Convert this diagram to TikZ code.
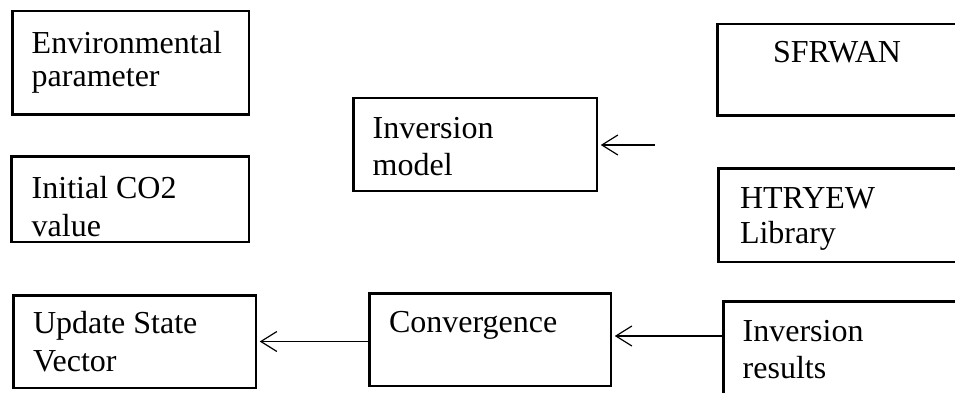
\documentclass[tikz,border=0pt]{standalone}
\usepackage{fontspec}
\setmainfont{Liberation Serif}
\usetikzlibrary{arrows.meta}
\begin{document}
\begin{tikzpicture}[x=1pt,y=-1pt,
  box/.style={draw, line width=2.5pt, inner sep=0pt, outer sep=0pt, anchor=north west},
  txt/.style={inner sep=0pt, outer sep=0pt, anchor=base west, align=left},
  conn/.style={line width=1.2pt, -{Straight Barb[length=16pt,width=20pt,line width=1.2pt]}, shorten >=4pt}]
\useasboundingbox (0,0) rectangle (955,393);
\clip (0,0) rectangle (955,393);
% boxes
\node[box, minimum width=236.5pt, minimum height=103.5pt] (env) at (12.25,11.25) {};
\node[box, minimum width=237.5pt, minimum height=85.5pt] (init) at (11.25,156.25) {};
\node[box, minimum width=242.5pt, minimum height=92.5pt] (upd) at (13.25,295.25) {};
\node[box, minimum width=243.5pt, minimum height=92.5pt] (inv) at (353.25,98.25) {};
\node[box, minimum width=300pt, minimum height=91.5pt] (sfr) at (717.25,24.25) {};
\node[box, minimum width=300pt, minimum height=93.5pt] (lib) at (718.25,168.25) {};
\node[box, minimum width=300pt, minimum height=150pt] (res) at (723.25,301.25) {};
\node[box, minimum width=241.5pt, minimum height=92.5pt] (conv) at (369.25,293.25) {};
% texts (anchor = baseline of the last line)
\node[txt, font=\fontsize{32}{33}\selectfont] (tenv) at (31.7,86.3) {Environmental\\parameter};
\node[txt, font=\fontsize{32}{38}\selectfont] (tinit) at (31.7,236.3) {Initial CO2\\value};
\node[txt, font=\fontsize{32}{38}\selectfont] (tupd) at (33,371.3) {Update State\\Vector};
\node[txt, font=\fontsize{32}{37}\selectfont] (tinv) at (372.7,175.3) {Inversion\\model};
\node[txt, font=\fontsize{32}{37}\selectfont] (tsfr) at (773,63) {SFRWAN};
\node[txt, font=\fontsize{32}{35}\selectfont] (tlib) at (740,243.3) {HTRYEW\\Library};
\node[txt, font=\fontsize{32}{36.6}\selectfont] (tres) at (742.7,378.3) {Inversion\\results};
\node[txt, font=\fontsize{32}{37}\selectfont] (tconv) at (389,332.3) {Convergence};
% connectors
\coordinate (src) at (655,145);
\coordinate (p) at ([yshift=3.5pt]conv.east);
\draw[conn] (src) -- (inv.east |- src);
\draw[conn] (p -| res.west) -- (p);
\draw[conn] (conv.west |- upd.east) -- (upd.east);
\end{tikzpicture}
\end{document}
